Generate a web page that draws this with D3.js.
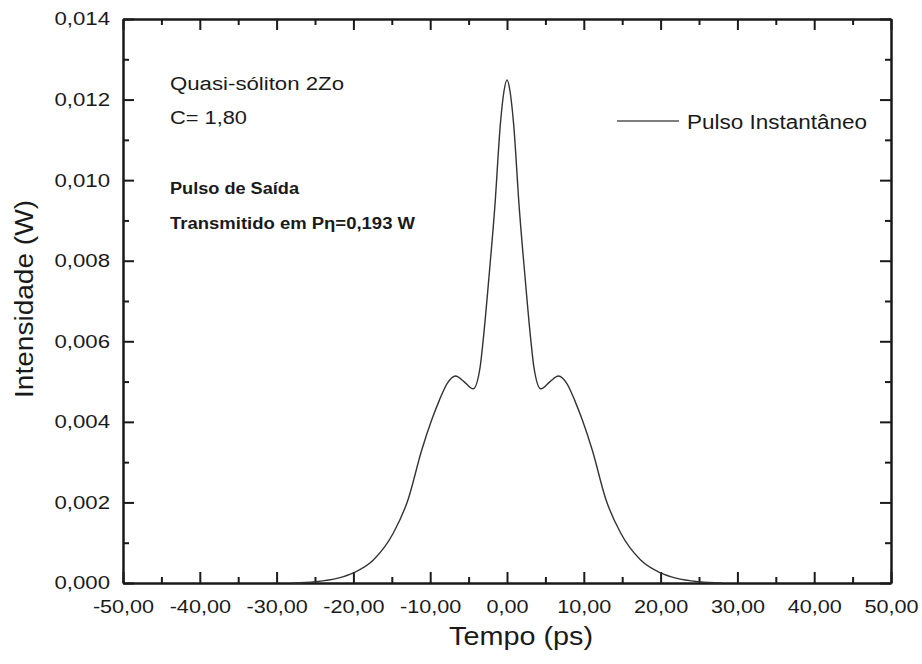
<!DOCTYPE html>
<html>
<head>
<meta charset="utf-8">
<script src="https://cdn.jsdelivr.net/npm/d3@7"></script>
<style>
  body { margin: 0; background: #fff; }
  text { font-family: "Liberation Sans", Arial, sans-serif; fill: #1a1a1a; }
  .axis path, .axis line { stroke: #1a1a1a; stroke-width: 2; }
</style>
</head>
<body>
<script>
// pulse (t in ps, intensity in W)
var tempo = [-28, -25, -22, -20, -17.4, -14.8, -12.9, -11.1, -9.8, -8.8, -7.8, -6.7, -5.6, -4.4, -3.5, -3.1, -2.3, -1.6, -0.85, -0.4, 0,
             0.4, 0.85, 1.6, 2.3, 3.1, 3.5, 4.4, 5.6, 6.7, 7.8, 8.8, 9.8, 11.1, 12.9, 14.8, 17.4, 20, 22, 25, 28];
var intensidade = [0, 0.00003, 0.00012, 0.00025, 0.00057, 0.00124, 0.00206, 0.0033, 0.00405, 0.00454, 0.00495, 0.00514, 0.00500, 0.00482, 0.00536, 0.00603, 0.0077, 0.0093, 0.01142, 0.0122, 0.01249,
             0.0122, 0.01142, 0.0093, 0.0077, 0.00603, 0.00536, 0.00482, 0.00500, 0.00514, 0.00495, 0.00454, 0.00405, 0.0033, 0.00206, 0.00124, 0.00057, 0.00025, 0.00012, 0.00003, 0];
var xTicks = [-50, -40, -30, -20, -10, 0, 10, 20, 30, 40, 50];
var xMinor = [-45, -35, -25, -15, -5, 5, 15, 25, 35, 45];
var yTicks = [0, 0.002, 0.004, 0.006, 0.008, 0.010, 0.012, 0.014];
var yMinor = [0.001, 0.003, 0.005, 0.007, 0.009, 0.011, 0.013];

(function(){
	const W = 922, H = 664;
	const MARGIN = { top: 19, right: 31, bottom: 81, left: 123 };
	var w = W - MARGIN.left - MARGIN.right,
		h = H - MARGIN.top - MARGIN.bottom;

	var pt = d3.formatLocale({ decimal: ",", thousands: ".", grouping: [3], currency: ["", ""], minus: "-" });
	var fx = pt.format(".2f"), fy = pt.format(".3f");

	var x = d3.scaleLinear().domain([-50, 50]).range([0, w]);
	var y = d3.scaleLinear().domain([0, 0.014]).range([h, 0]);

	var svg = d3.select('body').append('svg')
		.attr('width', W).attr('height', H)
		.append('g')
		.attr('transform', 'translate(' + MARGIN.left + ',' + MARGIN.top + ')');

	// the original text is drawn a bit wide, stretch it
	function widen(sel, k){
		sel.each(function(){
			var l = this.getComputedTextLength();
			d3.select(this).attr('textLength', l * k).attr('lengthAdjust', 'spacingAndGlyphs');
		});
	}
	function fit(sel, len){
		sel.attr('textLength', len).attr('lengthAdjust', 'spacingAndGlyphs');
	}

	// bottom / left axes with labels, ticks pointing inward
	svg.append('g').attr('class', 'axis')
		.attr('transform', 'translate(0,' + h + ')')
		.call(d3.axisBottom(x).tickValues(xTicks).tickFormat(fx).tickSizeInner(-11).tickSizeOuter(0).tickPadding(17))
		.selectAll('text').style('font-size', '18px').call(widen, 1.2);
	svg.append('g').attr('class', 'axis')
		.attr('transform', 'translate(0,' + h + ')')
		.call(d3.axisBottom(x).tickValues(xMinor).tickFormat('').tickSizeInner(-6).tickSizeOuter(0));
	svg.append('g').attr('class', 'axis')
		.call(d3.axisLeft(y).tickValues(yTicks).tickFormat(fy).tickSizeInner(-11).tickSizeOuter(0).tickPadding(13))
		.selectAll('text').style('font-size', '18.5px').call(widen, 1.2);
	svg.append('g').attr('class', 'axis')
		.call(d3.axisLeft(y).tickValues(yMinor).tickFormat('').tickSizeInner(-6).tickSizeOuter(0));

	// mirrored top / right
	svg.append('g').attr('class', 'axis')
		.call(d3.axisTop(x).tickValues(xTicks).tickFormat('').tickSizeInner(-11).tickSizeOuter(0));
	svg.append('g').attr('class', 'axis')
		.call(d3.axisTop(x).tickValues(xMinor).tickFormat('').tickSizeInner(-6).tickSizeOuter(0));
	svg.append('g').attr('class', 'axis')
		.attr('transform', 'translate(' + w + ',0)')
		.call(d3.axisRight(y).tickValues(yTicks).tickFormat('').tickSizeInner(-11).tickSizeOuter(0));
	svg.append('g').attr('class', 'axis')
		.attr('transform', 'translate(' + w + ',0)')
		.call(d3.axisRight(y).tickValues(yMinor).tickFormat('').tickSizeInner(-6).tickSizeOuter(0));

	// axis titles
	svg.append('text')
		.attr('x', 521 - MARGIN.left).attr('y', 645 - MARGIN.top)
		.attr('text-anchor', 'middle')
		.style('font-size', '25px')
		.text('Tempo (ps)').call(fit, 144);
	svg.append('text')
		.attr('transform', 'translate(' + (33 - MARGIN.left) + ',' + (299 - MARGIN.top) + ') rotate(-90)')
		.attr('text-anchor', 'middle')
		.style('font-size', '25px')
		.text('Intensidade (W)').call(fit, 198);

	// pulse curve
	var line = d3.line()
		.x(function(d){ return x(d[0]); })
		.y(function(d){ return y(d[1]); })
		.curve(d3.curveMonotoneX);
	svg.append('path')
		.datum(d3.zip(tempo, intensidade))
		.attr('fill', 'none')
		.attr('stroke', '#333')
		.attr('stroke-width', 1.4)
		.attr('d', line);

	// annotations
	var ax = 170 - MARGIN.left;
	svg.append('text').attr('x', ax).attr('y', 90 - MARGIN.top).style('font-size', '18px')
		.text('Quasi-sóliton 2Zo').call(fit, 174);
	svg.append('text').attr('x', ax).attr('y', 124 - MARGIN.top).style('font-size', '18px')
		.text('C= 1,80').call(fit, 77);
	svg.append('text').attr('x', ax).attr('y', 194 - MARGIN.top).style('font-size', '16px').style('font-weight', 'bold')
		.text('Pulso de Saída').call(fit, 129);
	svg.append('text').attr('x', ax).attr('y', 229 - MARGIN.top).style('font-size', '16px').style('font-weight', 'bold')
		.text('Transmitido em  Pη=0,193 W').call(fit, 245);

	// legend
	svg.append('line')
		.attr('x1', 617 - MARGIN.left).attr('x2', 679 - MARGIN.left)
		.attr('y1', 121 - MARGIN.top).attr('y2', 121 - MARGIN.top)
		.attr('stroke', '#555').attr('stroke-width', 1.4);
	svg.append('text').attr('x', 687 - MARGIN.left).attr('y', 129 - MARGIN.top).style('font-size', '19.5px')
		.text('Pulso Instantâneo').call(fit, 180);
})();
</script>
</body>
</html>
